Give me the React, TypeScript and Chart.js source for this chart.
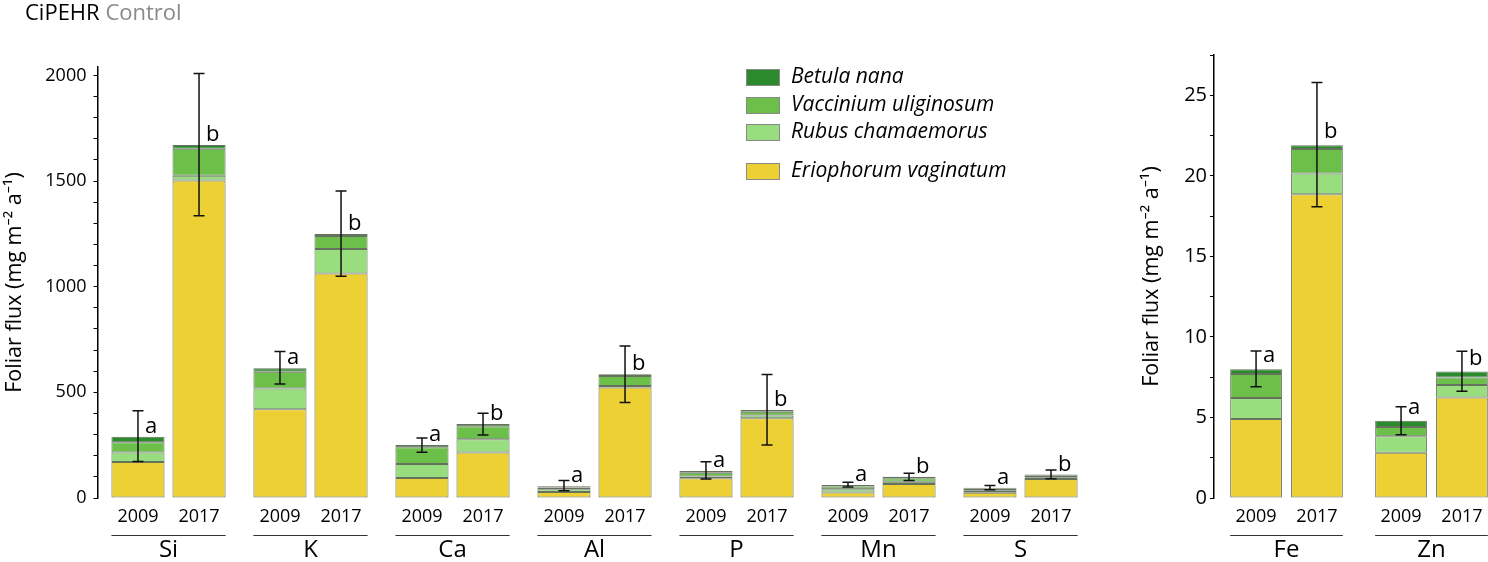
import React, { useEffect, useRef } from "react";
import { Chart, registerables } from "chart.js";

Chart.register(...registerables);

const FONT = "'Open Sans', 'Noto Sans', 'DejaVu Sans', sans-serif";

// ---------- data ----------
const years = ["2009", "2017"];
const species = ["Eriophorum vaginatum", "Rubus chamaemorus", "Vaccinium uliginosum", "Betula nana"];
const speciesColors = ["#ecd034", "#98dd7e", "#6cc04a", "#2b8a2b"];
const legendOrder = [3, 2, 1, 0];

const leftElements = ["Si", "K", "Ca", "Al", "P", "Mn", "S"];
const leftErio2009 = [170, 420, 95, 28, 93, 26, 25];
const leftRubus2009 = [45, 98, 66, 14, 9, 16, 9];
const leftVacc2009 = [49, 80, 79, 8, 17, 12, 10];
const leftBetula2009 = [26, 16, 11, 6, 9, 7, 5];
const leftErio2017 = [1503, 1063, 215, 523, 377, 66, 90];
const leftRubus2017 = [22, 115, 63, 7, 14, 11, 6];
const leftVacc2017 = [128, 62, 62, 47, 17, 16, 9];
const leftBetula2017 = [18, 9, 10, 9, 8, 7, 6];
const leftErrLow2009 = [173, 540, 217, 34, 90, 52, 39];
const leftErrHigh2009 = [413, 693, 284, 83, 172, 75, 59];
const leftErrLow2017 = [1336, 1050, 298, 452, 251, 83, 91];
const leftErrHigh2017 = [2009, 1453, 401, 720, 585, 117, 132];
const leftLetters2009 = ["a", "a", "a", "a", "a", "a", "a"];
const leftLetters2017 = ["b", "b", "b", "b", "b", "b", "b"];
const leftYMax = 2040;
const leftYStep = 100;
const leftYLabelEvery = 500;

const rightElements = ["Fe", "Zn"];
const rightErio2009 = [4.9, 2.81];
const rightRubus2009 = [1.3, 1.03];
const rightVacc2009 = [1.49, 0.56];
const rightBetula2009 = [0.31, 0.39];
const rightErio2017 = [18.85, 6.24];
const rightRubus2017 = [1.3, 0.78];
const rightVacc2017 = [1.51, 0.46];
const rightBetula2017 = [0.24, 0.37];
const rightErrLow2009 = [6.9, 3.92];
const rightErrHigh2009 = [9.13, 5.66];
const rightErrLow2017 = [18.08, 6.63];
const rightErrHigh2017 = [25.8, 9.11];
const rightLetters2009 = ["a", "a"];
const rightLetters2017 = ["b", "b"];
const rightYMax = 27.5;
const rightYStep = 2.5;
const rightYLabelEvery = 5;

const yTitle = "Foliar flux (mg m\u207B\u00B2 a\u207B\u00B9)";

// ---------- helpers ----------
type PanelCfg = {
  elements: string[];
  series: number[][][]; // [year][species][element]
  errLow: number[][];
  errHigh: number[][];
  letters: string[][];
  yMax: number;
  yStep: number;
  yLabelEvery: number;
  yAxisWidth: number;
  titlePad: number;
  tickFont: number;
  tickPad: number;
  padRight: number;
  padTop: number;
  catPct: number;
  barPct: number;
  letterGap: number;
  legend: boolean;
};

function overlayPlugin(cfg: PanelCfg) {
  return {
    id: "overlay",
    afterDraw(chart: any) {
      const ctx = chart.ctx;
      const yScale = chart.scales.y;
      const area = chart.chartArea;
      const nSp = species.length;
      ctx.save();
      // error bars + letters
      years.forEach((_, s) => {
        const topMeta = chart.getDatasetMeta(s * nSp + nSp - 1);
        topMeta.data.forEach((bar: any, i: number) => {
          const x = bar.x;
          const yl = yScale.getPixelForValue(cfg.errLow[s][i]);
          const yh = yScale.getPixelForValue(cfg.errHigh[s][i]);
          ctx.strokeStyle = "#111";
          ctx.lineWidth = 1.5;
          ctx.beginPath();
          ctx.moveTo(x, yl);
          ctx.lineTo(x, yh);
          ctx.moveTo(x - 5.5, yl);
          ctx.lineTo(x + 5.5, yl);
          ctx.moveTo(x - 5.5, yh);
          ctx.lineTo(x + 5.5, yh);
          ctx.stroke();
          ctx.fillStyle = "#000";
          ctx.font = `22px ${FONT}`;
          ctx.textAlign = "left";
          ctx.textBaseline = "alphabetic";
          ctx.fillText(cfg.letters[s][i], x + 7, bar.y - cfg.letterGap);
        });
      });
      // year labels
      ctx.font = `18px ${FONT}`;
      ctx.fillStyle = "#000";
      ctx.textAlign = "center";
      ctx.textBaseline = "middle";
      years.forEach((yr, s) => {
        const meta = chart.getDatasetMeta(s * nSp);
        meta.data.forEach((bar: any) => {
          ctx.fillText(yr, bar.x, area.bottom + 19);
        });
      });
      // group underlines
      const first = chart.getDatasetMeta(0);
      const last = chart.getDatasetMeta((years.length - 1) * nSp);
      ctx.strokeStyle = "#333";
      ctx.lineWidth = 1;
      first.data.forEach((bar: any, i: number) => {
        const b2 = last.data[i];
        ctx.beginPath();
        ctx.moveTo(bar.x - bar.width / 2, area.bottom + 37.5);
        ctx.lineTo(b2.x + b2.width / 2, area.bottom + 37.5);
        ctx.stroke();
      });
      // legend
      if (cfg.legend) {
        const rows = [69, 97, 124, 163];
        legendOrder.forEach((k, r) => {
          ctx.fillStyle = speciesColors[k];
          ctx.fillRect(746.5, rows[r] + 0.5, 33, 16);
          ctx.strokeStyle = "#888";
          ctx.lineWidth = 1;
          ctx.strokeRect(746.5, rows[r] + 0.5, 33, 16);
          ctx.fillStyle = "#000";
          ctx.font = `italic 21px ${FONT}`;
          ctx.textAlign = "left";
          ctx.textBaseline = "middle";
          ctx.fillText(species[k], 791, rows[r] + 8.5);
        });
      }
      ctx.restore();
    },
  };
}

function buildChart(canvas: HTMLCanvasElement, cfg: PanelCfg) {
  const datasets: any[] = [];
  years.forEach((yr, s) => {
    species.forEach((sp, k) => {
      datasets.push({
        label: sp + " " + yr,
        data: cfg.series[s][k],
        stack: yr,
        backgroundColor: speciesColors[k],
        borderColor: "rgba(35,55,25,0.7)",
        borderWidth: 1,
        borderSkipped: false,
        categoryPercentage: cfg.catPct,
        barPercentage: cfg.barPct,
      });
    });
  });
  return new Chart(canvas, {
    type: "bar",
    data: { labels: cfg.elements, datasets },
    plugins: [overlayPlugin(cfg)],
    options: {
      animation: false,
      responsive: true,
      maintainAspectRatio: false,
      events: [],
      layout: { padding: { top: cfg.padTop, right: cfg.padRight, left: 0, bottom: 0 } },
      plugins: { legend: { display: false }, tooltip: { enabled: false }, title: { display: false } },
      scales: {
        x: {
          stacked: true,
          grid: { display: false, drawTicks: false },
          border: { display: false },
          ticks: { font: { size: 24, family: FONT }, color: "#000", padding: 38, autoSkip: false, maxRotation: 0 },
          afterFit: (scale: any) => {
            scale.height = 64;
          },
        },
        y: {
          stacked: true,
          min: 0,
          max: cfg.yMax,
          grid: { display: true, drawOnChartArea: false, drawTicks: true, tickLength: 4, color: "#000", lineWidth: 1 },
          border: { display: true, color: "#000", width: 1.5 },
          ticks: {
            stepSize: cfg.yStep,
            autoSkip: false,
            padding: cfg.tickPad,
            color: "#000",
            font: { size: cfg.tickFont, family: FONT },
            callback: (v: any) => {
              const n = Number(v);
              return Math.abs(n / cfg.yLabelEvery - Math.round(n / cfg.yLabelEvery)) < 1e-6 ? String(n) : "";
            },
          },
          afterBuildTicks: (scale: any) => {
            const t: any[] = [];
            for (let k = 0; k * cfg.yStep <= cfg.yMax + 1e-9; k++) {
              t.push({ value: Math.round(k * cfg.yStep * 1000) / 1000 });
            }
            scale.ticks = t;
          },
          title: {
            display: true,
            text: yTitle,
            color: "#000",
            font: { size: 21.5, family: FONT },
            padding: { top: cfg.titlePad, bottom: 0 },
          },
          afterFit: (scale: any) => {
            scale.width = cfg.yAxisWidth;
          },
        },
      },
    },
  } as any);
}

const leftCfg: PanelCfg = {
  elements: leftElements,
  series: [
    [leftErio2009, leftRubus2009, leftVacc2009, leftBetula2009],
    [leftErio2017, leftRubus2017, leftVacc2017, leftBetula2017],
  ],
  errLow: [leftErrLow2009, leftErrLow2017],
  errHigh: [leftErrHigh2009, leftErrHigh2017],
  letters: [leftLetters2009, leftLetters2017],
  yMax: leftYMax,
  yStep: leftYStep,
  yLabelEvery: leftYLabelEvery,
  yAxisWidth: 97.5,
  titlePad: 1.5,
  tickFont: 18,
  tickPad: 7,
  padRight: 18.5,
  padTop: 67,
  catPct: 0.86,
  barPct: 0.87,
  letterGap: 4,
  legend: true,
};

const rightCfg: PanelCfg = {
  elements: rightElements,
  series: [
    [rightErio2009, rightRubus2009, rightVacc2009, rightBetula2009],
    [rightErio2017, rightRubus2017, rightVacc2017, rightBetula2017],
  ],
  errLow: [rightErrLow2009, rightErrLow2017],
  errHigh: [rightErrHigh2009, rightErrHigh2017],
  letters: [rightLetters2009, rightLetters2017],
  yMax: rightYMax,
  yStep: rightYStep,
  yLabelEvery: rightYLabelEvery,
  yAxisWidth: 94,
  titlePad: 18.5,
  tickFont: 20,
  tickPad: 3,
  padRight: 16,
  padTop: 55,
  catPct: 0.84,
  barPct: 0.85,
  letterGap: 7,
  legend: false,
};

function Panel({ cfg, left, width }: { cfg: PanelCfg; left: number; width: number }) {
  const ref = useRef<HTMLCanvasElement | null>(null);
  useEffect(() => {
    if (!ref.current) return;
    const chart = buildChart(ref.current, cfg);
    return () => chart.destroy();
  }, [cfg]);
  return (
    <div style={{ position: "absolute", left, top: 0, width, height: 562 }}>
      <canvas ref={ref} />
    </div>
  );
}

export default function App() {
  return (
    <div
      style={{
        position: "absolute",
        left: 0,
        top: 0,
        width: 1488,
        height: 562,
        overflow: "hidden",
        background: "#fff",
        fontFamily: FONT,
      }}
    >
      <Panel cfg={leftCfg} left={0} width={1110} />
      <Panel cfg={rightCfg} left={1120} width={400} />
      <div
        style={{
          position: "absolute",
          left: 25,
          top: 0,
          fontSize: 22,
          lineHeight: "22px",
          whiteSpace: "nowrap",
        }}
      >
        <span style={{ color: "#000" }}>CiPEHR</span>
        <span style={{ color: "#8a8a8a" }}> Control</span>
      </div>
    </div>
  );
}
